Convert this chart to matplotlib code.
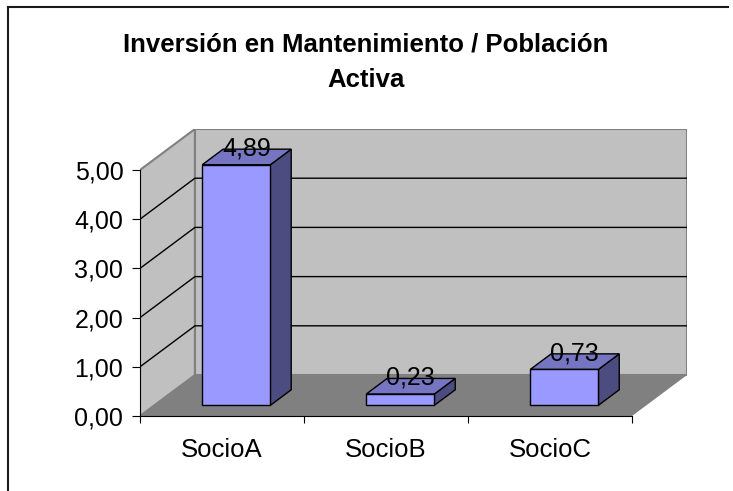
import numpy as np
import matplotlib
matplotlib.use("agg")
import matplotlib.pyplot as plt
from matplotlib.patches import Polygon
from matplotlib.lines import Line2D

plt.rcParams.update({'font.family': "Liberation Sans",
                     'font.size': 18})

# Data
categories = ["SocioA", "SocioB", "SocioC"]
values = [4.89, 0.23, 0.73]
y_ticks = [0, 1, 2, 3, 4, 5]
title_lines = ["Inversión en Mantenimiento / Población", "Activa"]

# Style
front_color = "#9999FF"
top_color = "#7575C2"
side_color = "#4C4C80"
wall_color = "#C0C0C0"
floor_color = "#808080"

# oblique depth offset (data units) and bar depth range
ddx, ddy = 0.335, 0.833
d0, d1 = 0.26, 0.64
bar_w = 0.415


def proj(x, y, d):
    return (x + d * ddx, y + d * ddy)


W, H = 733, 491
fig = plt.figure(figsize=(W / 100, H / 100), dpi=100)
ax = fig.add_axes([140 / W, 1 - 416 / H, 547 / W, 287 / H])
n = len(categories)
ymax = y_ticks[-1]
ax.set_xlim(0, n + ddx)
ax.set_ylim(0, ymax + ddy)
ax.patch.set_visible(False)

# walls and floor
left_wall = [proj(0, 0, 0), proj(0, 0, 1), proj(0, ymax, 1), proj(0, ymax, 0)]
back_wall = [proj(0, 0, 1), proj(n, 0, 1), proj(n, ymax, 1), proj(0, ymax, 1)]
floor = [proj(0, 0, 0), proj(n, 0, 0), proj(n, 0, 1), proj(0, 0, 1)]
ax.add_patch(Polygon(left_wall, closed=True, fc=wall_color, ec=floor_color, lw=1.5, zorder=1))
ax.add_patch(Polygon(back_wall, closed=True, fc=wall_color, ec=floor_color, lw=1.5, zorder=1))
ax.add_patch(Polygon(floor, closed=True, fc=floor_color, ec="none", zorder=1))

# gridlines
for v in y_ticks[1:-1]:
    pts = [proj(0, v, 0), proj(0, v, 1), proj(n, v, 1)]
    ax.plot([p[0] for p in pts], [p[1] for p in pts], color="black", lw=1, zorder=2)

# bars
for i, v in enumerate(values):
    x0 = i + 0.5 - bar_w / 2
    x1 = i + 0.5 + bar_w / 2
    front = [proj(x0, 0, d0), proj(x1, 0, d0), proj(x1, v, d0), proj(x0, v, d0)]
    side = [proj(x1, 0, d0), proj(x1, 0, d1), proj(x1, v, d1), proj(x1, v, d0)]
    top = [proj(x0, v, d0), proj(x1, v, d0), proj(x1, v, d1), proj(x0, v, d1)]
    ax.add_patch(Polygon(side, closed=True, fc=side_color, ec="black", lw=1, zorder=3))
    ax.add_patch(Polygon(top, closed=True, fc=top_color, ec="black", lw=1, zorder=3))
    ax.add_patch(Polygon(front, closed=True, fc=front_color, ec="black", lw=1, zorder=3))
    lx, ly = proj(i + 0.5, v, (d0 + d1) / 2)
    ax.annotate(f"{v:.2f}".replace(".", ","), (lx, ly), xytext=(0, 6),
                textcoords="offset points", ha="center", va="center",
                fontsize=18, zorder=4)

# axes
for s in ["top", "right"]:
    ax.spines[s].set_visible(False)
ax.spines["left"].set_bounds(0, ymax)
ax.spines["bottom"].set_bounds(0, n)
ax.spines["left"].set_zorder(5)
ax.spines["bottom"].set_zorder(5)
ax.set_yticks(y_ticks)
ax.set_yticklabels([f"{t:.2f}".replace(".", ",") for t in y_ticks])
ax.tick_params(axis="y", length=6, pad=6, labelsize=18)
ax.set_xticks(np.arange(n + 1))
ax.set_xticklabels([])
ax.tick_params(axis="x", which="major", length=5)
ax.set_xticks(np.arange(n) + 0.5, minor=True)
ax.set_xticklabels(categories, minor=True)
ax.tick_params(axis="x", which="minor", length=0, pad=16, labelsize=18.5)

# title
fig.text(366 / W, 1 - 45 / H, title_lines[0], ha="center", va="center",
         fontsize=18.5, fontweight="bold")
fig.text(366 / W, 1 - 80 / H, title_lines[1], ha="center", va="center",
         fontsize=18.5, fontweight="bold")

# chart border (top and left visible)
fig.add_artist(Line2D([8 / W, 728 / W], [1 - 6.5 / H, 1 - 6.5 / H], color="#1a1a1a", lw=1.5))
fig.add_artist(Line2D([8 / W, 8 / W], [1 - 6.5 / H, 0], color="#1a1a1a", lw=1.5))

fig.savefig("out.png", dpi=100)
